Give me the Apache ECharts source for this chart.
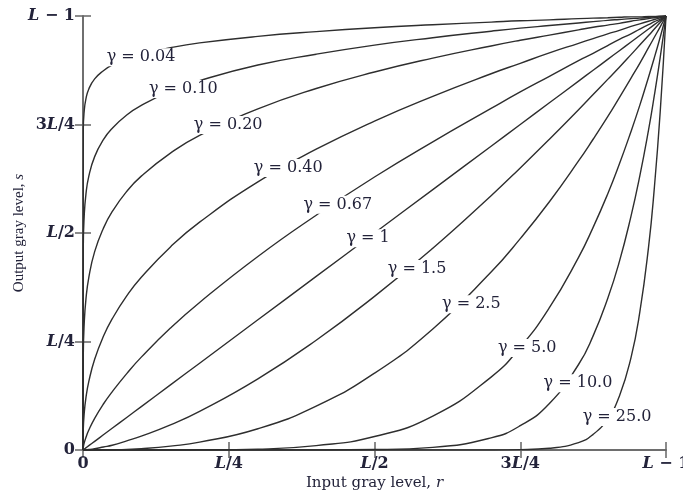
<!DOCTYPE html>
<html><head><meta charset="utf-8">
<script src="https://cdn.jsdelivr.net/npm/echarts@6/dist/echarts.min.js"></script>
<style>html,body{margin:0;padding:0;background:#fff}#c{width:683px;height:494px}</style>
</head><body><div id="c"></div>
<script>
// Input gray level samples (fraction of L-1)
const rVals = [0, 0.0005, 0.002, 0.005, 0.01, 0.02, 0.035, 0.05, 0.075, 0.1, 0.15, 0.2, 0.3, 0.4, 0.5, 0.6, 0.7, 0.75, 0.8, 0.85, 0.875, 0.9, 0.92, 0.94, 0.955, 0.97, 0.98, 0.99, 1];
// Output gray level for each gamma curve
const g004 = [0, 0.738, 0.780, 0.809, 0.832, 0.855, 0.874, 0.887, 0.902, 0.912, 0.927, 0.938, 0.953, 0.964, 0.973, 0.980, 0.986, 0.989, 0.991, 0.994, 0.995, 0.996, 0.997, 0.998, 0.998, 0.999, 0.999, 1.000, 1];
const g010 = [0, 0.468, 0.537, 0.589, 0.631, 0.676, 0.715, 0.741, 0.772, 0.794, 0.827, 0.851, 0.887, 0.912, 0.933, 0.950, 0.965, 0.972, 0.978, 0.984, 0.987, 0.990, 0.992, 0.994, 0.995, 0.997, 0.998, 0.999, 1];
const g020 = [0, 0.219, 0.289, 0.347, 0.398, 0.457, 0.511, 0.549, 0.596, 0.631, 0.684, 0.725, 0.786, 0.833, 0.871, 0.903, 0.931, 0.944, 0.956, 0.968, 0.974, 0.979, 0.983, 0.988, 0.991, 0.994, 0.996, 0.998, 1];
const g040 = [0, 0.048, 0.083, 0.120, 0.158, 0.209, 0.262, 0.302, 0.355, 0.398, 0.468, 0.525, 0.618, 0.693, 0.758, 0.815, 0.867, 0.891, 0.915, 0.937, 0.948, 0.959, 0.967, 0.976, 0.982, 0.988, 0.992, 0.996, 1];
const g067 = [0, 0.006, 0.016, 0.029, 0.046, 0.073, 0.106, 0.134, 0.176, 0.214, 0.281, 0.340, 0.446, 0.541, 0.629, 0.710, 0.787, 0.825, 0.861, 0.897, 0.914, 0.932, 0.946, 0.959, 0.970, 0.980, 0.987, 0.993, 1];
const g100 = [0, 0.0005, 0.002, 0.005, 0.01, 0.02, 0.035, 0.05, 0.075, 0.1, 0.15, 0.2, 0.3, 0.4, 0.5, 0.6, 0.7, 0.75, 0.8, 0.85, 0.875, 0.9, 0.92, 0.94, 0.955, 0.97, 0.98, 0.99, 1];
const g150 = [0, 0, 0.0001, 0.0004, 0.001, 0.003, 0.007, 0.011, 0.021, 0.032, 0.058, 0.089, 0.164, 0.253, 0.354, 0.465, 0.586, 0.650, 0.716, 0.784, 0.819, 0.854, 0.882, 0.911, 0.933, 0.955, 0.970, 0.985, 1];
const g250 = [0, 0, 0, 0, 0, 0.0001, 0.0002, 0.0006, 0.0015, 0.003, 0.009, 0.018, 0.049, 0.101, 0.177, 0.279, 0.410, 0.487, 0.572, 0.666, 0.716, 0.768, 0.812, 0.857, 0.891, 0.927, 0.951, 0.975, 1];
const g500 = [0, 0, 0, 0, 0, 0, 0, 0, 0, 0, 0.0001, 0.0003, 0.002, 0.010, 0.031, 0.078, 0.168, 0.237, 0.328, 0.444, 0.513, 0.590, 0.659, 0.734, 0.794, 0.859, 0.904, 0.951, 1];
const g1000 = [0, 0, 0, 0, 0, 0, 0, 0, 0, 0, 0, 0, 0, 0.0001, 0.001, 0.006, 0.028, 0.056, 0.107, 0.197, 0.263, 0.349, 0.434, 0.539, 0.631, 0.737, 0.817, 0.904, 1];
const g2500 = [0, 0, 0, 0, 0, 0, 0, 0, 0, 0, 0, 0, 0, 0, 0, 0, 0.0001, 0.0008, 0.004, 0.017, 0.036, 0.072, 0.124, 0.213, 0.317, 0.467, 0.604, 0.778, 1];

const curves = [g004, g010, g020, g040, g067, g100, g150, g250, g500, g1000, g2500];
const gammaNames = ['0.04', '0.10', '0.20', '0.40', '0.67', '1', '1.5', '2.5', '5.0', '10.0', '25.0'];

// Tick values and labels (both axes)
const tickVals = [0, 0.25, 0.5, 0.75, 1];
const tickLabels = ['0', '{i|L}/4', '{i|L}/2', '3{i|L}/4', '{i|L} \u2212 1'];

// Label anchor positions (where the gamma labels sit on the curves)
const labelR = [0.0995, 0.172, 0.249, 0.352, 0.437, 0.489, 0.573, 0.666, 0.762, 0.849, 0.916];
const labelS = [0.905, 0.832, 0.749, 0.650, 0.565, 0.488, 0.417, 0.336, 0.235, 0.154, 0.076];

const FONT = 'DejaVu Serif';
const TXT = '#23233a';
const AX = '#666';

function fmt(v) {
  const i = tickVals.findIndex(t => Math.abs(t - v) < 1e-9);
  return i >= 0 ? tickLabels[i] : '';
}
const rich = { i: { fontStyle: 'italic', fontFamily: FONT, fontSize: 16, fontWeight: 'bold', color: TXT } };

const chart = echarts.init(document.getElementById('c'), null, { renderer: 'canvas' });

const series = curves.map((s, k) => ({
  type: 'line',
  name: gammaNames[k],
  data: rVals.map((r, i) => [r, s[i]]),
  showSymbol: false,
  smooth: 0.5,
  lineStyle: { color: '#2e2e2e', width: 1.4 },
  silent: true,
  z: 2
}));

series.push({
  type: 'scatter',
  data: labelR.map((r, i) => [r, labelS[i]]),
  symbolSize: 0,
  silent: true,
  z: 5,
  itemStyle: { opacity: 1, color: '#fff' },
  label: {
    show: true,
    position: 'inside',
    formatter: p => '\u03b3 = ' + gammaNames[p.dataIndex],
    fontFamily: FONT,
    fontSize: 16,
    color: TXT,
    opacity: 1,
    backgroundColor: '#fff',
    padding: [1, 3]
  }
});

const axisCommon = {
  type: 'value', min: 0, max: 1, interval: 0.25,
  splitLine: { show: false },
  axisLine: { show: true, lineStyle: { color: AX, width: 1.5 } },
  axisTick: { show: true, inside: true, length: 8, lineStyle: { color: AX, width: 1.5 } }
};

chart.setOption({
  animation: false,
  backgroundColor: '#fff',
  grid: { left: 83, right: 17, top: 16, bottom: 44, containLabel: false, outerBoundsMode: 'none' },
  xAxis: [
    Object.assign({}, axisCommon, {
      position: 'bottom',
      axisLabel: { formatter: fmt, rich, fontFamily: FONT, fontSize: 16, fontWeight: 'bold', color: TXT, margin: 6 },
      name: 'Input gray level, {i|r}',
      nameLocation: 'middle', nameGap: 26, nameMoveOverlap: false,
      nameTextStyle: { fontFamily: FONT, fontSize: 15, color: TXT, rich: { i: { fontStyle: 'italic', fontFamily: FONT, fontSize: 15, color: TXT } } }
    }),
    Object.assign({}, axisCommon, { position: 'top', axisLabel: { show: false } })
  ],
  yAxis: [
    Object.assign({}, axisCommon, {
      position: 'left',
      axisLabel: { formatter: fmt, rich, fontFamily: FONT, fontSize: 16, fontWeight: 'bold', color: TXT, margin: 8 },
      name: 'Output gray level, {i|s}',
      nameLocation: 'middle', nameGap: 56, nameRotate: 90, nameMoveOverlap: false,
      nameTextStyle: { fontFamily: 'Liberation Serif', fontSize: 15, color: TXT, rich: { i: { fontStyle: 'italic', fontFamily: 'Liberation Serif', fontSize: 15, color: TXT } } }
    }),
    Object.assign({}, axisCommon, { position: 'right', axisLabel: { show: false } })
  ],
  series
});
</script></body></html>
